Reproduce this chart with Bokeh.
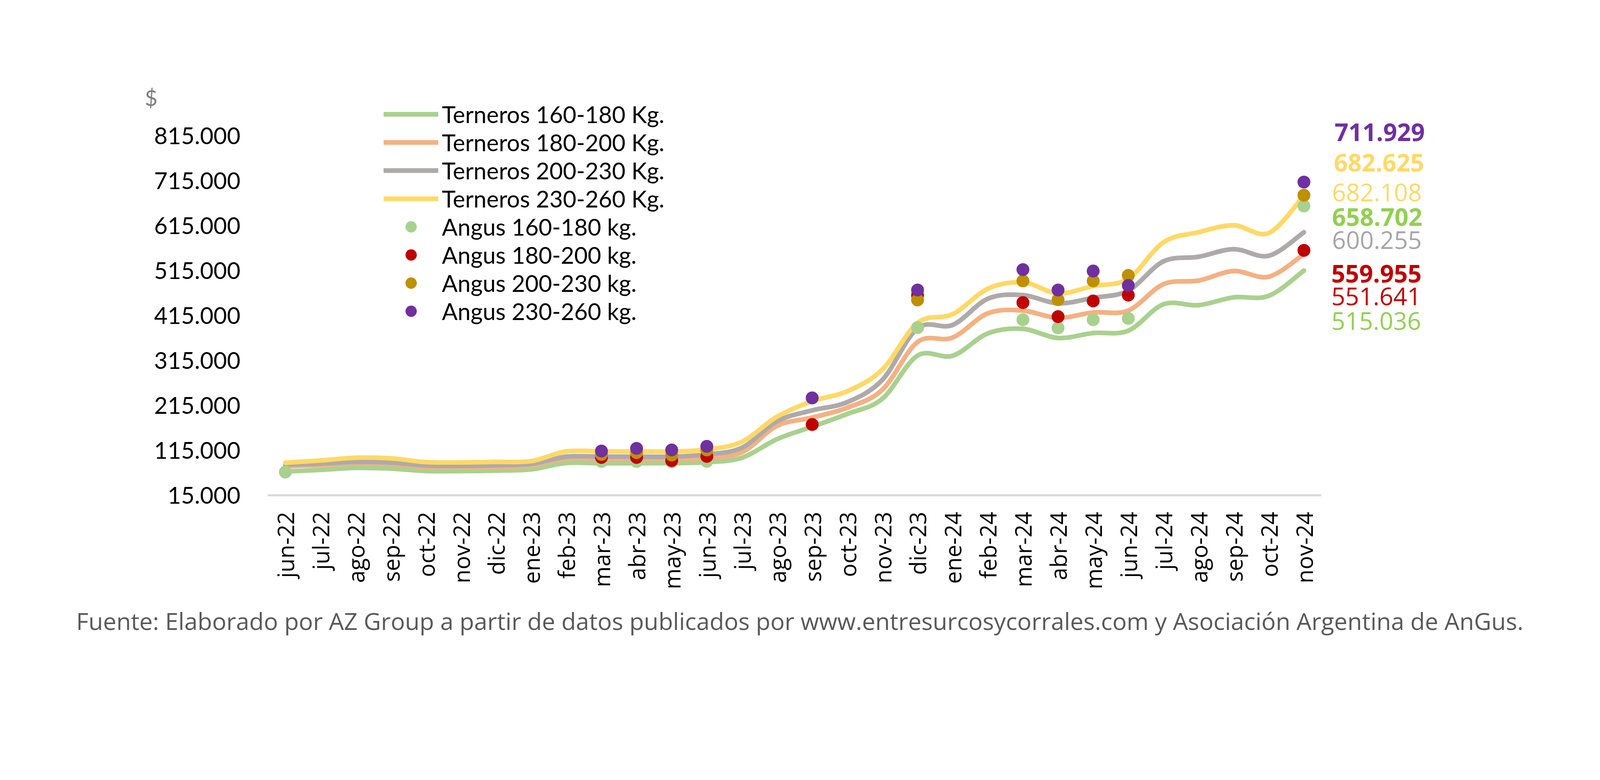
import math
import numpy as np
from bokeh.plotting import figure
from bokeh.models import (Range1d, FixedTicker, Legend, LegendItem, Label, ColumnDataSource,
                          LinearAxis, Title)
from bokeh.embed import file_html
from bokeh.resources import INLINE

# ---------------- data ----------------
months = ["jun-22", "jul-22", "ago-22", "sep-22", "oct-22", "nov-22", "dic-22", "ene-23",
          "feb-23", "mar-23", "abr-23", "may-23", "jun-23", "jul-23", "ago-23", "sep-23",
          "oct-23", "nov-23", "dic-23", "ene-24", "feb-24", "mar-24", "abr-24", "may-24",
          "jun-24", "jul-24", "ago-24", "sep-24", "oct-24", "nov-24"]

terneros_160_180 = [68000, 71600, 76000, 74400, 69000, 69000, 70000, 72700,
                    86900, 86200, 86500, 86500, 88800, 98600, 140000, 167600,
                    196000, 230000, 325800, 325500, 375200, 385400, 365000, 376000,
                    381300, 440000, 438000, 455500, 458800, 515036]
terneros_180_200 = [79800, 82200, 85800, 84400, 77600, 77000, 77600, 81200,
                    96900, 96000, 96000, 96000, 98000, 110800, 169600, 188000,
                    210000, 250000, 356000, 366000, 419800, 426000, 409700, 421900,
                    426000, 484700, 492800, 514000, 501400, 551641]
terneros_200_230 = [83400, 85500, 89400, 88000, 81200, 80500, 81900, 84800,
                    101100, 101100, 101000, 101000, 106000, 121000, 179800, 204000,
                    222300, 272000, 386600, 394000, 452300, 460400, 442200, 454300,
                    470600, 535400, 545600, 562600, 548000, 600255]
terneros_230_260 = [87600, 92500, 98600, 97400, 89000, 88300, 89400, 91200,
                    112800, 112800, 112500, 112500, 117000, 134300, 190000, 224400,
                    246600, 295000, 398800, 418000, 474600, 488800, 464400, 480600,
                    496900, 578000, 600300, 615800, 598700, 682108]

N = None
angus_160_180 = [66700, N, N, N, N, N, N, N, N, 90400, 90400, 89500, 90500, N, N, N,
                 N, N, 388200, N, N, 405600, 387400, 405600, 408500, N, N, N, N, 658702]
angus_180_200 = [N, N, N, N, N, N, N, N, N, 99300, 99300, 92200, 101500, N, N, 172500,
                 N, N, 460000, N, N, 443900, 412500, 447400, 460400, N, N, N, N, 559955]
angus_200_230 = [N, N, N, N, N, N, N, N, N, 106000, 110000, 104700, 116000, N, N, N,
                 N, N, 449500, N, N, 492000, 450300, 492000, 504200, N, N, N, N, 682625]
angus_230_260 = [N, N, N, N, N, N, N, N, N, 113500, 119500, 116000, 124000, N, N, 231700,
                 N, N, 471700, N, N, 517200, 471700, 514000, 481900, N, N, N, N, 711929]

y_ticks = [15000, 115000, 215000, 315000, 415000, 515000, 615000, 715000, 815000]
y_tick_labels = ["15.000", "115.000", "215.000", "315.000", "415.000", "515.000",
                 "615.000", "715.000", "815.000"]

line_names = ["Terneros 160-180 Kg.", "Terneros 180-200 Kg.", "Terneros 200-230 Kg.", "Terneros 230-260 Kg."]
dot_names = ["Angus 160-180 kg.", "Angus 180-200 kg.", "Angus 200-230 kg.", "Angus 230-260 kg."]

end_labels = ["711.929", "682.625", "682.108", "658.702", "600.255", "559.955", "551.641", "515.036"]
end_label_colors = ["#7030A0", "#FFD966", "#FFD966", "#92D050", "#A6A6A6", "#C00000", "#C00000", "#92D050"]
end_label_bold = [True, True, False, True, False, True, False, False]

unit_label = "$"
footer = ("Fuente: Elaborado por AZ Group a partir de datos publicados por "
          "www.entresurcosycorrales.com y Asociación Argentina de AnGus.")

# ---------------- styling / geometry ----------------
line_colors = ["#A9D18E", "#F4B183", "#AEAAAA", "#FFD966"]
dot_colors = ["#A9D18E", "#C00000", "#BF9000", "#7030A0"]

# The page is photographed with a ~1.093 device scale, so geometry measured in
# reference-image pixels is divided by S to get CSS pixels.
S = 1.093


def c(v):
    return v / S


def fs(v):
    return f"{v / S:.1f}px"


AXIS_L, AXIS_R = 757, 3706          # extent of the category axis (image px)
FRAME_L, FRAME_R, FRAME_T, FRAME_B = 757, 4040, 250, 1394
W = int(4500 / S) - 16
H = int(1996 / S) - 16
PX_PER_CAT = (AXIS_R - AXIS_L) / len(months)
PX_PER_100K = 125.8
x_end = -0.5 + (FRAME_R - FRAME_L) / PX_PER_CAT
y_top = 15000 + (FRAME_B - FRAME_T) / PX_PER_100K * 100000

fl = round(c(FRAME_L) - 8)
fr = round(c(FRAME_R) - 8)
ft = round(c(FRAME_T) - 8)
fb = round(c(FRAME_B) - 8)

p = figure(width=W, height=H, output_backend="svg", toolbar_location=None, title=None,
           x_range=Range1d(-0.5, x_end), y_range=Range1d(15000, y_top),
           min_border_left=fl, min_border_right=W - fr,
           min_border_top=ft, min_border_bottom=H - fb)
p.outline_line_color = None
p.grid.visible = False
p.background_fill_color = "white"
p.border_fill_color = "white"


def bezier_source(vals):
    ys = np.array(vals, dtype=float)
    n = len(ys)
    xs = np.arange(n, dtype=float)
    d = {k: [] for k in ["x0", "y0", "x1", "y1", "cx0", "cy0", "cx1", "cy1"]}
    for i in range(n - 1):
        ip, inn = max(i - 1, 0), min(i + 2, n - 1)
        d["x0"].append(xs[i]); d["y0"].append(ys[i])
        d["x1"].append(xs[i + 1]); d["y1"].append(ys[i + 1])
        d["cx0"].append(xs[i] + (xs[i + 1] - xs[ip]) / 6)
        d["cy0"].append(ys[i] + (ys[i + 1] - ys[ip]) / 6)
        d["cx1"].append(xs[i + 1] - (xs[inn] - xs[i]) / 6)
        d["cy1"].append(ys[i + 1] - (ys[inn] - ys[i]) / 6)
    return ColumnDataSource(d)


items = []
for vals, col, name in zip([terneros_160_180, terneros_180_200, terneros_200_230, terneros_230_260],
                           line_colors, line_names):
    r = p.bezier(x0="x0", y0="y0", x1="x1", y1="y1", cx0="cx0", cy0="cy0", cx1="cx1", cy1="cy1",
                 source=bezier_source(vals), line_color=col, line_width=c(13), line_cap="round")
    items.append(LegendItem(label=name, renderers=[r]))

x_idx = list(range(len(months)))
for vals, col, name in zip([angus_160_180, angus_180_200, angus_200_230, angus_230_260],
                           dot_colors, dot_names):
    r = p.scatter(x=x_idx, y=np.array(vals, dtype=float), size=c(36), fill_color=col,
                  line_color=None, marker="circle")
    items.append(LegendItem(label=name, renderers=[r]))

legend = Legend(items=items, location=(c(325), c(476)), orientation="vertical",
                glyph_width=round(c(153)), glyph_height=round(c(79)), label_height=round(c(79)),
                spacing=0, padding=0, margin=0, label_standoff=round(c(10)),
                label_text_font="Lato", label_text_font_size=fs(65), label_text_color="#000000",
                border_line_color=None, background_fill_alpha=0)
p.add_layout(legend)

# y axis
p.yaxis.ticker = FixedTicker(ticks=y_ticks)
p.yaxis.major_label_overrides = {t: l for t, l in zip(y_ticks, y_tick_labels)}
p.yaxis.axis_line_color = None
p.yaxis.major_tick_line_color = None
p.yaxis.minor_tick_line_color = None
p.yaxis.major_tick_out = 0
p.yaxis.major_tick_in = 0
p.yaxis.major_label_standoff = round(c(76))
p.yaxis.major_label_text_font = "Lato"
p.yaxis.major_label_text_font_size = fs(65)
p.yaxis.major_label_text_color = "#000000"

# "$" unit mark: an extra left axis carrying a single label above the scale
unit_y = 15000 + (FRAME_B - 280) / PX_PER_100K * 100000
unit_axis = LinearAxis(ticker=FixedTicker(ticks=[unit_y]),
                       major_label_overrides={unit_y: unit_label},
                       axis_line_color=None, major_tick_line_color=None,
                       minor_tick_line_color=None, major_tick_out=0, major_tick_in=0,
                       major_label_standoff=-round(c(13)), major_label_text_font="Lato",
                       major_label_text_font_size=fs(62), major_label_text_color="#7F7F7F")
p.add_layout(unit_axis, "left")

# x axis
p.xaxis.ticker = FixedTicker(ticks=x_idx)
p.xaxis.major_label_overrides = {i: m for i, m in enumerate(months)}
p.xaxis.major_label_orientation = math.pi / 2
p.xaxis.axis_line_color = "#D9D9D9"
p.xaxis.axis_line_width = c(6)
p.xaxis.bounds = (-0.5, len(months) - 0.5)
p.xaxis.major_tick_line_color = None
p.xaxis.minor_tick_line_color = None
p.xaxis.major_tick_out = 0
p.xaxis.major_tick_in = 0
p.xaxis.major_label_standoff = round(c(46))
p.xaxis.major_label_text_font = "Open Sans"
p.xaxis.major_label_text_font_size = fs(63)
p.xaxis.major_label_text_color = "#000000"

# end-value labels (image positions, inside the frame)
end_x = [3742, 3740, 3735, 3735, 3735, 3733, 3733, 3733]
end_y = [379, 464, 547, 616, 680, 774, 838, 907]
for t, col, b, xi, yi in zip(end_labels, end_label_colors, end_label_bold, end_x, end_y):
    p.add_layout(Label(x=c(xi - FRAME_L), y=c(FRAME_B - yi), x_units="screen", y_units="screen",
                       text=t, text_color=col, text_font="Open Sans", text_font_size=fs(68),
                       text_font_style="bold" if b else "normal",
                       text_align="left", text_baseline="middle"))

# footer
p.add_layout(Title(text=footer, align="left", offset=c(221 - FRAME_L), vertical_align="middle",
                   text_font="Open Sans", text_font_size=fs(66.5), text_font_style="normal",
                   text_color="#595959", standoff=round(c(74))), "below")

open("out.html", "w").write(file_html(p, INLINE))
